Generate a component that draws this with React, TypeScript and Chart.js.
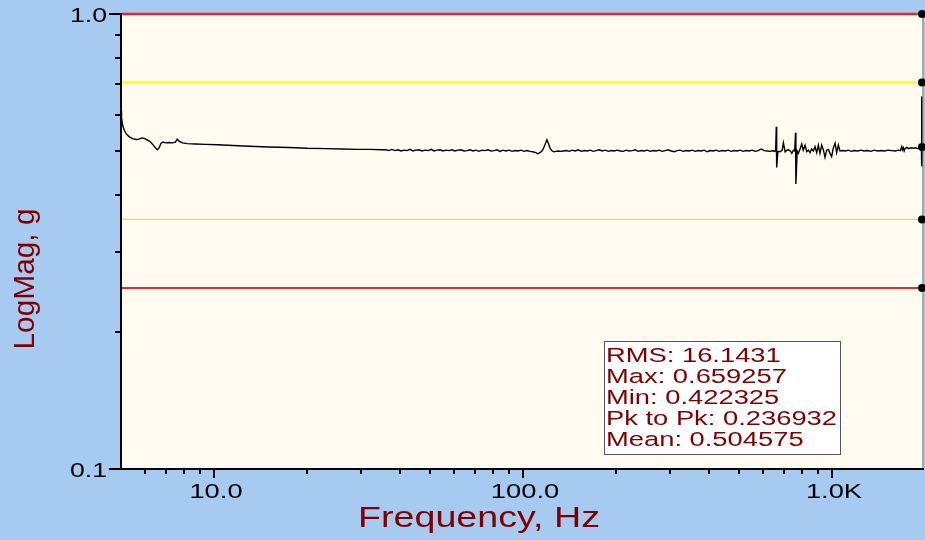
import { useEffect, useRef } from "react";
import { Chart, registerables } from "chart.js";

Chart.register(...registerables);

// ---------- data ----------
const freqHz: number[] = [
  // 5 - 35 Hz
  5.0, 5.02, 5.06, 5.12, 5.2, 5.32, 5.45, 5.6, 5.72, 5.83,
  5.95, 6.08, 6.22, 6.36, 6.48, 6.56, 6.64, 6.74, 6.84, 6.98,
  7.15, 7.32, 7.5, 7.6, 7.72, 7.9, 8.2, 8.7, 9.4, 10.3,
  11.5, 13.0, 15.0, 17.5, 20.0, 23.0, 26.0, 29.0, 32.0, 35.0,
  // 36 - 105 Hz
  36.0, 36.8, 37.6, 38.5, 39.4, 40.3, 41.2, 42.1, 43.1, 44.0,
  45.0, 46.1, 47.1, 48.2, 49.3, 50.4, 51.5, 52.7, 53.9, 55.1,
  56.3, 57.6, 58.9, 60.2, 61.6, 63.0, 64.4, 65.9, 67.4, 68.9,
  70.4, 72.0, 73.7, 75.3, 77.0, 78.8, 80.6, 82.4, 84.2, 86.1,
  88.1, 90.1, 92.1, 94.2, 96.3, 98.5, 100.7, 103.0, 105.3,
  // 120 Hz bump
  107.5, 110.0, 111.8, 113.4, 115.0, 116.5, 118.0, 119.5, 120.8, 122.2,
  123.8, 125.6, 127.6, 130.0, 132.5, 135.0,
  // 138 - 645 Hz
  138.0, 141.1, 144.3, 147.6, 150.9, 154.3, 157.8, 161.4, 165.0, 168.7,
  172.5, 176.4, 180.4, 184.5, 188.7, 192.9, 197.3, 201.7, 206.3, 211.0,
  215.7, 220.6, 225.6, 230.7, 235.9, 241.2, 246.7, 252.2, 257.9, 263.8,
  269.7, 275.8, 282.1, 288.4, 294.9, 301.6, 308.4, 315.4, 322.5, 329.8,
  337.3, 344.9, 352.7, 360.7, 368.8, 377.1, 385.7, 394.4, 403.3, 412.4,
  421.7, 431.3, 441.0, 451.0, 461.2, 471.6, 482.3, 493.2, 504.3, 515.7,
  527.4, 539.3, 551.5, 564.0, 576.7, 589.7, 603.1, 616.7, 630.6, 644.9,
  // 650 - 1061 Hz (noisy)
  650, 657, 660, 662, 668, 679, 690, 696, 705, 714,
  722, 733, 741, 750, 757, 762, 764, 771, 778, 788,
  798, 807, 818, 828, 838, 849, 859, 870, 881, 892,
  903, 914, 926, 938, 949, 961, 973, 985, 997, 1009,
  1023, 1035, 1048, 1061,
  // 1080 - 1955 Hz
  1080, 1105, 1130, 1155, 1180, 1210, 1240, 1270, 1300, 1335,
  1370, 1405, 1440, 1480, 1520, 1560, 1600, 1640, 1665, 1681,
  1692, 1702, 1712, 1723, 1745, 1770, 1800, 1833, 1860, 1890,
  1915, 1935, 1946, 1949, 1952, 1955,
];

const magG: number[] = [
  // 5 - 35 Hz
  0.612, 0.592, 0.57, 0.556, 0.545, 0.537, 0.532, 0.53, 0.531, 0.534,
  0.533, 0.529, 0.524, 0.515, 0.507, 0.503, 0.508, 0.52, 0.523, 0.521,
  0.522, 0.521, 0.523, 0.531, 0.525, 0.521, 0.519, 0.518, 0.517, 0.516,
  0.514, 0.512, 0.51, 0.509, 0.507, 0.506, 0.505, 0.504, 0.504, 0.503,
  // 36 - 105 Hz
  0.503, 0.501, 0.504, 0.501, 0.503, 0.5, 0.502, 0.501, 0.504, 0.5,
  0.502, 0.503, 0.5, 0.502, 0.501, 0.504, 0.5, 0.502, 0.503, 0.5,
  0.502, 0.501, 0.503, 0.5, 0.502, 0.503, 0.5, 0.501, 0.503, 0.5,
  0.502, 0.499, 0.502, 0.501, 0.503, 0.5, 0.501, 0.503, 0.499, 0.502,
  0.5, 0.502, 0.499, 0.501, 0.5, 0.502, 0.499, 0.501, 0.499,
  // 120 Hz bump
  0.498, 0.496, 0.493, 0.496, 0.499, 0.507, 0.518, 0.529, 0.52, 0.508,
  0.501, 0.498, 0.499, 0.5, 0.499, 0.5,
  // 138 - 645 Hz
  0.501, 0.499, 0.502, 0.5, 0.503, 0.499, 0.501, 0.5, 0.502, 0.499,
  0.501, 0.503, 0.5, 0.502, 0.499, 0.501, 0.5, 0.502, 0.5, 0.499,
  0.502, 0.5, 0.501, 0.503, 0.499, 0.501, 0.5, 0.502, 0.499, 0.501,
  0.5, 0.502, 0.499, 0.501, 0.503, 0.5, 0.498, 0.501, 0.502, 0.499,
  0.501, 0.5, 0.502, 0.499, 0.501, 0.5, 0.502, 0.498, 0.501, 0.5,
  0.502, 0.499, 0.501, 0.5, 0.502, 0.499, 0.501, 0.5, 0.502, 0.499,
  0.501, 0.5, 0.502, 0.499, 0.501, 0.505, 0.501, 0.5, 0.499, 0.501,
  // 650 - 1061 Hz (noisy)
  0.499, 0.5, 0.565, 0.46, 0.499, 0.498, 0.502, 0.521, 0.498, 0.502,
  0.503, 0.5, 0.494, 0.502, 0.5, 0.548, 0.423, 0.5, 0.494, 0.505,
  0.518, 0.502, 0.515, 0.498, 0.502, 0.496, 0.505, 0.5, 0.511, 0.496,
  0.515, 0.494, 0.515, 0.502, 0.484, 0.502, 0.504, 0.494, 0.486, 0.507,
  0.52, 0.496, 0.515, 0.5,
  // 1080 - 1955 Hz
  0.501, 0.5, 0.502, 0.499, 0.501, 0.5, 0.502, 0.5, 0.501, 0.499,
  0.502, 0.5, 0.501, 0.5, 0.502, 0.501, 0.5, 0.502, 0.501, 0.511,
  0.503, 0.508, 0.5, 0.506, 0.509, 0.506, 0.508, 0.507, 0.508, 0.506,
  0.508, 0.507, 0.51, 0.659, 0.463, 0.51,
];

const refLevels: number[] = [1.0, 0.7071, 0.3536, 0.25];
const refColors: string[] = ["#e8282c", "#ffff00", "#e4e42a", "#e8282c"];
const refWidths: number[] = [2.4, 2, 1.2, 2];

const xTickValues: number[] = [
  6, 7, 8, 9, 10, 20, 30, 40, 50, 60, 70, 80, 90, 100,
  200, 300, 400, 500, 600, 700, 800, 900, 1000,
];
const xTickLabels: Record<number, string> = { 10: "10.0", 100: "100.0", 1000: "1.0K" };
const yTickValues: number[] = [0.1, 0.2, 0.3, 0.4, 0.5, 0.6, 0.7, 0.8, 0.9, 1.0];
const yTickLabels: Record<number, string> = { 0.1: "0.1", 1: "1.0" };

const statLines: string[] = [
  "RMS: 16.1431",
  "Max: 0.659257",
  "Min: 0.422325",
  "Pk to Pk: 0.236932",
  "Mean: 0.504575",
];

const X_MIN = 5;
const X_MAX = 1955;
const Y_MIN = 0.1;
const Y_MAX = 1.0;
const X_TITLE = "Frequency, Hz";
const Y_TITLE = "LogMag, g";

// ---------- styles ----------
const BG = "#a6caf0";
const PLOT_BG = "#fffbf0";
const TITLE_COLOR = "#800000";
const FONT = '"Liberation Sans", Arial, sans-serif';

function drawStretched(
  ctx: CanvasRenderingContext2D,
  text: string,
  x: number,
  y: number,
  sx: number,
  align: CanvasTextAlign
) {
  ctx.save();
  ctx.translate(x, y);
  ctx.scale(sx, 1);
  ctx.textAlign = align;
  ctx.textBaseline = "alphabetic";
  ctx.fillText(text, 0, 0);
  ctx.restore();
}

const decorPlugin = {
  id: "decor",
  beforeDraw(chart: any) {
    const { ctx, width, height, chartArea: a } = chart;
    ctx.save();
    ctx.fillStyle = BG;
    ctx.fillRect(0, 0, width, height);
    ctx.fillStyle = PLOT_BG;
    ctx.fillRect(a.left, a.top, a.right - a.left, a.bottom - a.top);
    ctx.strokeStyle = "#a8a8a8";
    ctx.lineWidth = 2;
    ctx.beginPath();
    ctx.moveTo(a.right + 1, a.top);
    ctx.lineTo(a.right + 1, a.bottom);
    ctx.stroke();
    ctx.restore();
  },
  afterDraw(chart: any) {
    const { ctx, chartArea: a } = chart;
    const xs = chart.scales.x;
    const ys = chart.scales.y;
    ctx.save();
    // axes lines
    ctx.strokeStyle = "#000";
    ctx.lineWidth = 2;
    ctx.beginPath();
    ctx.moveTo(a.left, a.top - 1);
    ctx.lineTo(a.left, a.bottom + 1);
    ctx.moveTo(a.left - 1, a.bottom);
    ctx.lineTo(a.right + 2, a.bottom);
    ctx.stroke();

    // y ticks
    ctx.fillStyle = "#000";
    ctx.font = `21px ${FONT}`;
    for (const v of yTickValues) {
      const py = Math.round(ys.getPixelForValue(v));
      const lab = yTickLabels[v];
      const len = lab ? 12 : 6;
      ctx.beginPath();
      ctx.moveTo(a.left - len, py);
      ctx.lineTo(a.left, py);
      ctx.stroke();
      if (lab) drawStretched(ctx, lab, 107, py + 7.5, 1.27, "right");
    }
    // x ticks
    for (const v of xTickValues) {
      const px = Math.round(xs.getPixelForValue(v));
      const lab = xTickLabels[v];
      const len = lab ? 9 : 5;
      ctx.beginPath();
      ctx.moveTo(px, a.bottom);
      ctx.lineTo(px, a.bottom + len);
      ctx.stroke();
      if (lab) drawStretched(ctx, lab, px + 2, 498, 1.3, "center");
    }

    // axis titles
    ctx.fillStyle = TITLE_COLOR;
    ctx.font = `30px ${FONT}`;
    const xw = ctx.measureText(X_TITLE).width;
    drawStretched(ctx, X_TITLE, 479, 527, 242 / xw, "center");

    ctx.font = `29px ${FONT}`;
    const yw = ctx.measureText(Y_TITLE).width;
    ctx.save();
    ctx.translate(34, 279);
    ctx.rotate(-Math.PI / 2);
    ctx.scale(141 / yw, 1);
    ctx.textAlign = "center";
    ctx.textBaseline = "alphabetic";
    ctx.fillText(Y_TITLE, 0, 0);
    ctx.restore();

    // stats box
    const bx = 604.5, by = 341.5, bw = 236, bh = 113;
    ctx.fillStyle = "#ffffff";
    ctx.fillRect(bx, by, bw, bh);
    ctx.strokeStyle = "#555";
    ctx.lineWidth = 1;
    ctx.strokeRect(bx, by, bw, bh);
    ctx.fillStyle = TITLE_COLOR;
    ctx.font = `20.5px ${FONT}`;
    const sw = ctx.measureText(statLines[3]).width;
    const ssx = 231 / sw;
    statLines.forEach((s, i) => {
      drawStretched(ctx, s, 606, 362 + i * 21, ssx, "left");
    });
    ctx.restore();
  },
};

export default function App() {
  const ref = useRef<HTMLCanvasElement | null>(null);

  useEffect(() => {
    if (!ref.current) return;
    const lastDot = (c: any) =>
      c.dataIndex === c.dataset.data.length - 1 ? 4 : 0;

    const datasets: any[] = [
      {
        label: "LogMag",
        data: freqHz.map((f, i) => ({ x: f, y: magG[i] })),
        borderColor: "#000",
        backgroundColor: "#000",
        borderWidth: 1.4,
        pointRadius: lastDot,
        pointBorderWidth: 0,
        tension: 0,
        clip: false,
      },
      ...refLevels.map((lv, i) => ({
        label: `ref${i}`,
        data: [
          { x: X_MIN, y: lv },
          { x: X_MAX, y: lv },
        ],
        borderColor: refColors[i],
        backgroundColor: "#000",
        borderWidth: refWidths[i],
        pointRadius: lastDot,
        pointBorderWidth: 0,
        clip: false,
      })),
    ];

    const chart = new Chart(ref.current, {
      type: "line",
      data: { datasets },
      options: {
        animation: false,
        responsive: false,
        events: [],
        layout: { autoPadding: false, padding: { left: 0, right: 3, top: 14, bottom: 0 } },
        plugins: { legend: { display: false }, tooltip: { enabled: false } },
        scales: {
          x: {
            type: "logarithmic",
            min: X_MIN,
            max: X_MAX,
            position: "bottom",
            grid: { display: false },
            border: { display: false },
            ticks: {
              display: false,
              callback: (v: any) => xTickLabels[Number(v)] ?? "",
            },
            afterBuildTicks: (s: any) => {
              s.ticks = xTickValues.map((v) => ({ value: v, major: !!xTickLabels[v] }));
            },
            afterFit: (s: any) => {
              s.height = 71;
            },
          },
          y: {
            type: "logarithmic",
            min: Y_MIN,
            max: Y_MAX,
            position: "left",
            grid: { display: false },
            border: { display: false },
            ticks: {
              display: false,
              callback: (v: any) => yTickLabels[Number(v)] ?? "",
            },
            afterBuildTicks: (s: any) => {
              s.ticks = yTickValues.map((v) => ({ value: v, major: !!yTickLabels[v] }));
            },
            afterFit: (s: any) => {
              s.width = 121;
            },
          },
        },
      } as any,
      plugins: [decorPlugin],
    });
    return () => chart.destroy();
  }, []);

  return (
    <div style={{ position: "fixed", left: 0, top: 0, width: 925, height: 540 }}>
      <canvas ref={ref} width={925} height={540} style={{ width: 925, height: 540 }} />
    </div>
  );
}
